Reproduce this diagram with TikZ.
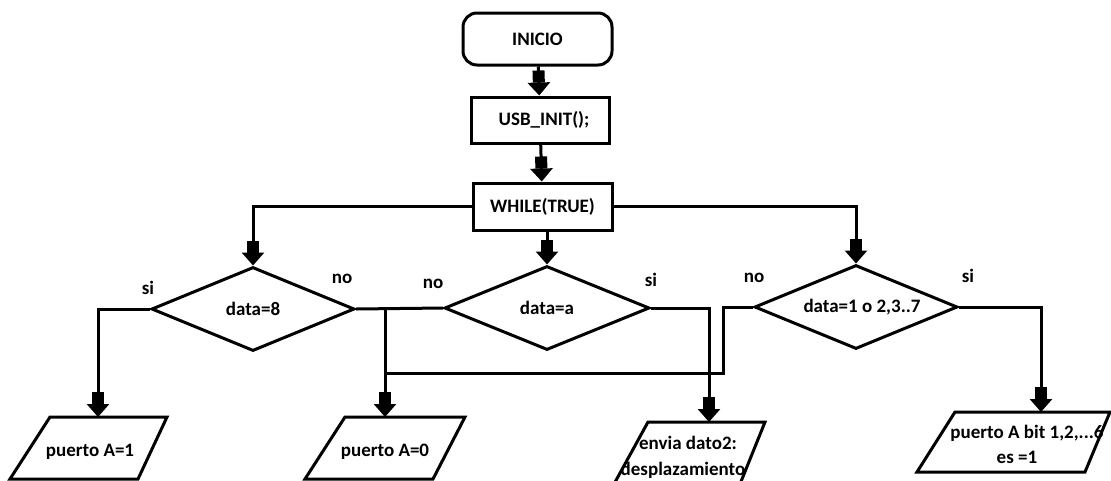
\documentclass[tikz,border=0pt]{standalone}
\usepackage{fontspec}
\setmainfont{Carlito}
\usetikzlibrary{shapes.geometric,arrows.meta}
\begin{document}
\begin{tikzpicture}[x=1pt,y=-1pt,line width=3pt,
  txt/.style={font=\bfseries\fontsize{19}{24}\selectfont,inner sep=0pt},
  procbox/.style={draw,rectangle,txt,minimum width=138pt,minimum height=46pt},
  termbox/.style={procbox,rounded corners=14pt,minimum width=149pt,minimum height=52pt},
  decision/.style={draw,diamond,txt,aspect=2.4,minimum width=203pt,minimum height=84pt},
  arr/.style={-{Rectangle[length=12pt,width=12pt]Triangle[length=13pt,width=22pt]}},
  lbl/.style={txt}]
\useasboundingbox (0,0) rectangle (1111,480);
\clip (0,0) rectangle (1111,480);
\fill[white] (0,0) rectangle (1111,480);

% boxes
\node[termbox] (inicio) at (537.5,39) {INICIO};
\node[procbox] (usb) at (540,120) {\hspace{8pt}USB\_INIT();};
\node[procbox,minimum width=139pt,minimum height=47pt] (while) at (542.5,206.5) {WHILE(TRUE)};

% decisions
\node[decision] (d1) at (253,309) {data=8};
\node[decision,minimum width=205pt] (d2) at (547,308) {data=a};
\node[decision] (d3) at (856,307) {\hspace{12pt}data=1 o 2,3..7};

% parallelograms (input/output)
\draw (50,417) -- (167,417) -- (138,479) -- (10,479) -- cycle;
\draw (345,417) -- (465,417) -- (433,479) -- (305,479) -- cycle;
\draw (648,422) -- (765,422) -- (740,484) -- (614,484) -- cycle;
\draw (955,412) -- (1110,412) -- (1085,472) -- (917,472) -- cycle;
\node[txt] (p1) at (90,452) {puerto A=1};
\node[txt] (p2) at (385,452) {puerto A=0};
\node[txt,align=center] (p3a) at (688,443) {envia dato2:};
\node[txt] (p3b) at (683,470) {desplazamiento};
\node[txt,align=center] (p4a) at (1027,433) {puerto A bit 1,2,...6};
\node[txt] (p4b) at (1017,457) {es =1};

\coordinate (p1t) at (98,417);
\coordinate (p2t) at (385,417);
\coordinate (p3t) at (709,422);
\coordinate (p4t) at (1041,412);
\coordinate (j1) at (385,308);
\coordinate (j2) at (385,373);

% connectors
\draw[arr] (inicio) -- (usb);
\draw[arr] (usb) -- (while);
\draw[arr] (while.west) -| (d1.north);
\draw[arr] (while.south -| d2.north) -- (d2.north);
\draw[arr] (while.east) -| (d3.north);
\draw[arr] (d1.west) -| (p1t);
\draw (d1.east) -- (d2.west);
\draw[arr] (j1) -- (p2t);
\draw[arr] (d2.east) -| (p3t);
\draw (d3.west) -| (723,373) -- (j2);
\draw[arr] (d3.east) -| (p4t);

% branch labels
\node[lbl] at (148,288) {si};
\node[lbl] at (342,279) {no};
\node[lbl] at (433,284) {no};
\node[lbl] at (651,280) {si};
\node[lbl] at (754,278) {no};
\node[lbl] at (968,276) {si};
\end{tikzpicture}
\end{document}
